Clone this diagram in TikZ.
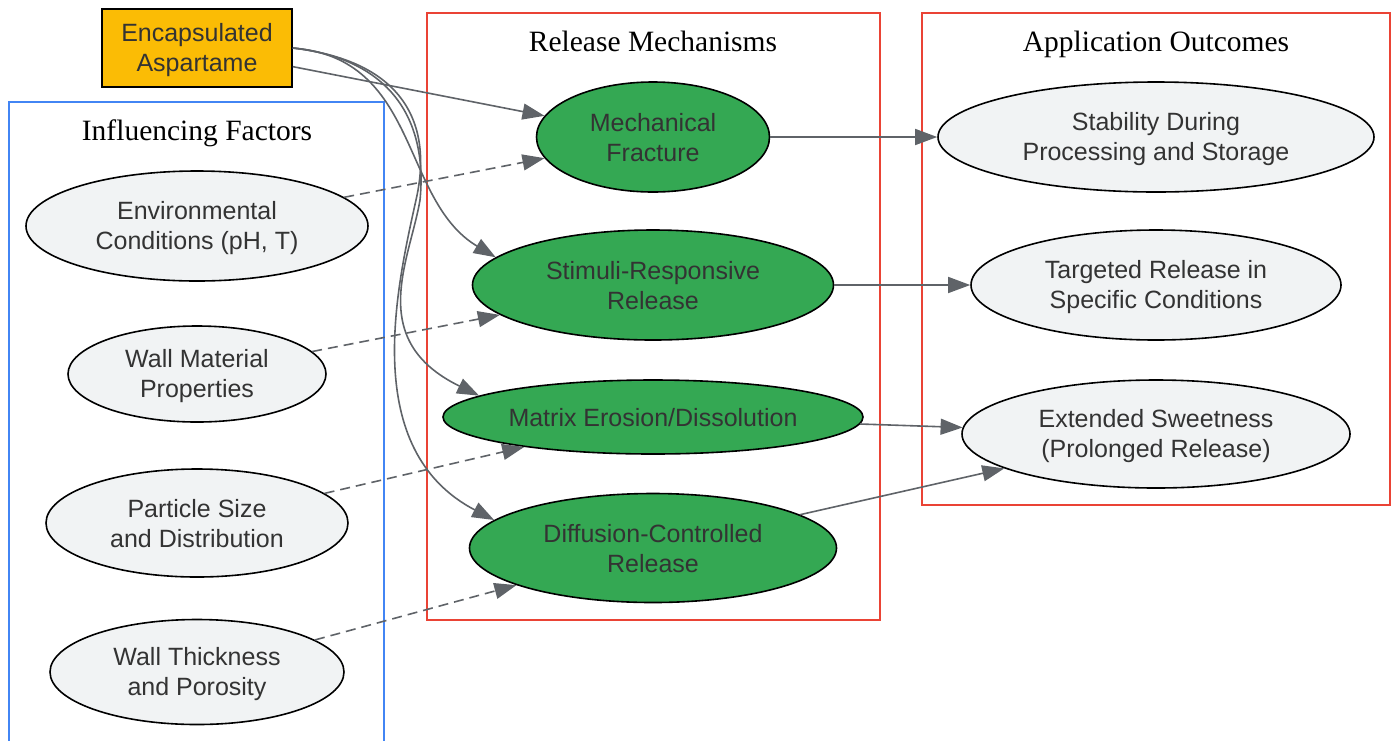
\documentclass[tikz,border=0pt]{standalone}
\usepackage{fontspec}
\setmainfont{Liberation Sans}
\newfontfamily\titlefont{Liberation Serif}
\usetikzlibrary{arrows.meta,shapes.geometric}
\definecolor{asporange}{HTML}{FBBC05}
\definecolor{mechgreen}{HTML}{34A853}
\definecolor{nodegray}{HTML}{F1F3F4}
\definecolor{clusblue}{HTML}{4285F4}
\definecolor{clusred}{HTML}{EA4335}
\definecolor{edgegray}{HTML}{5F6368}
\definecolor{txtgray}{HTML}{333333}
\newcommand{\ls}{\rule[-3pt]{0pt}{25.5pt}}
\tikzset{
  basenode/.style={draw=black, line width=1.6pt, text=txtgray, align=center, inner sep=0pt,
    font=\fontsize{25}{30}\selectfont},
  srcbox/.style={basenode, rectangle, fill=asporange, minimum width=190pt, minimum height=78pt},
  mechnode/.style={basenode, ellipse, fill=mechgreen},
  graynode/.style={basenode, ellipse, fill=nodegray},
  ctitle/.style={font=\titlefont\fontsize{29.5}{34}\selectfont, text=black, inner sep=0pt, anchor=base},
  blueclus/.style={draw=clusblue, line width=1.6pt},
  redclus/.style={draw=clusred, line width=1.6pt},
  edge/.style={draw=edgegray, line width=1.6pt, -{Triangle[length=22pt,width=16pt]}},
  dashedge/.style={edge, dash pattern=on 10pt off 6pt},
}
\begin{document}
\begin{tikzpicture}[x=1pt,y=-1pt]
\useasboundingbox (0,0) rectangle (1397,740);
% clusters
\draw[blueclus] (9,102) rectangle (384,760);
\draw[redclus] (427,13) rectangle (880,620);
\draw[redclus] (922,13) rectangle (1390,505);
\node[ctitle] (tinf) at (197,140) {Influencing Factors};
\node[ctitle] (trel) at (653,51) {Release Mechanisms};
\node[ctitle] (tapp) at (1156,51) {Application Outcomes};
% source
\node[srcbox] (asp) at (197,48) {\ls Encapsulated\\Aspartame\ls};
% factors
\node[graynode, minimum width=342pt, minimum height=110pt] (env) at (197,226) {\ls Environmental\\Conditions (pH, T)\ls};
\node[graynode, minimum width=258pt, minimum height=96pt] (wmat) at (197,374) {\ls Wall Material\\Properties\ls};
\node[graynode, minimum width=302pt, minimum height=108pt] (psize) at (197,523) {\ls Particle Size\\and Distribution\ls};
\node[graynode, minimum width=294pt, minimum height=105pt] (wthick) at (197,672) {\ls Wall Thickness\\and Porosity\ls};
% mechanisms
\node[mechnode, minimum width=233pt, minimum height=110pt] (mech) at (653,137) {\ls Mechanical\\Fracture\ls};
\node[mechnode, minimum width=361pt, minimum height=110pt] (stim) at (653,285) {\ls Stimuli-Responsive\\Release\ls};
\node[mechnode, minimum width=420pt, minimum height=74pt] (matr) at (653,417) {\ls Matrix Erosion/Dissolution\ls};
\node[mechnode, minimum width=367pt, minimum height=109pt] (diff) at (653,548) {\ls Diffusion-Controlled\\Release\ls};
% outcomes
\node[graynode, minimum width=436pt, minimum height=110pt] (stab) at (1156,137) {\ls Stability During\\Processing and Storage\ls};
\node[graynode, minimum width=370pt, minimum height=110pt] (targ) at (1156,285) {\ls Targeted Release in\\Specific Conditions\ls};
\node[graynode, minimum width=388pt, minimum height=108pt] (ext) at (1156,434) {\ls Extended Sweetness\\(Prolonged Release)\ls};
% source edges
\draw[edge] (asp) -- (mech);
\draw[edge] (asp.east) .. controls (420,58) and (400,200) .. (stim.170);
\coordinate (mA) at (420,200);
\draw[edge] (asp.east) .. controls (400,60) and (427,130) .. (mA) .. controls (410,260) and (365,340) .. (matr.173);
\coordinate (dA) at (416,200);
\draw[edge] (asp.east) .. controls (410,62) and (432,130) .. (dA) .. controls (396,290) and (360,450) .. (diff.170);
% factor edges
\draw[dashedge] (env) -- (mech);
\draw[dashedge] (wmat) -- (stim);
\draw[dashedge] (psize) -- (matr);
\draw[dashedge] (wthick) -- (diff);
% outcome edges
\draw[edge] (mech) -- (stab);
\draw[edge] (stim) -- (targ);
\draw[edge] (matr) -- (ext);
\draw[edge] (diff) -- (ext);
\end{tikzpicture}
\end{document}
